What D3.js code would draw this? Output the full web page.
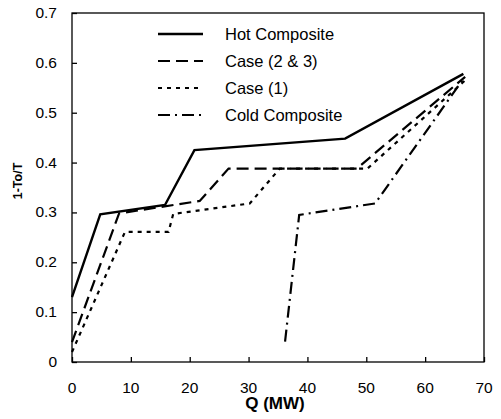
<!DOCTYPE html>
<html>
<head>
<script src="https://d3js.org/d3.v7.min.js"></script>
<style>
body { margin: 0; background: #fff; font-family: 'Liberation Sans', Arial, sans-serif; }
</style>
</head>
<body>
<div id="chart"></div>
<script>
// series: [Q (MW), 1-To/T]
var hotComposite = [[0, 0.13], [4.8, 0.296], [15.8, 0.315], [20.8, 0.425], [46.4, 0.448], [66.5, 0.578]];
var case23 = [[0, 0.04], [8.0, 0.298], [21.7, 0.323], [26.6, 0.388], [48.4, 0.388], [66.8, 0.572]];
var case1 = [[0, 0.02], [9.0, 0.261], [16.4, 0.261], [17.2, 0.297], [30.2, 0.318], [35.3, 0.388], [50.2, 0.388], [66.8, 0.565]];
var coldComposite = [[36.2, 0.041], [38.6, 0.295], [51.5, 0.318], [66.5, 0.568]];

var seriesNames = ["Hot Composite", "Case (2 & 3)", "Case (1)", "Cold Composite"];
var xTicks = [0, 10, 20, 30, 40, 50, 60, 70];
var yTicks = [0, 0.1, 0.2, 0.3, 0.4, 0.5, 0.6, 0.7];

var width = 501, height = 419;
var margin = {left: 72, top: 13, right: 17, bottom: 57};

var svg = d3.select("#chart").append("svg")
  .attr("width", width).attr("height", height);

var x = d3.scaleLinear().domain([0, 70]).range([margin.left, width - margin.right]);
var y = d3.scaleLinear().domain([0, 0.7]).range([height - margin.bottom, margin.top]);

// frame
svg.append("rect")
  .attr("x", x(0)).attr("y", y(0.7))
  .attr("width", x(70) - x(0)).attr("height", y(0) - y(0.7))
  .attr("fill", "none").attr("stroke", "#000").attr("stroke-width", 1.3);

// axes with inward ticks
svg.append("g").attr("transform", "translate(0," + y(0) + ")")
  .call(d3.axisTop(x).tickValues(xTicks).tickSize(5).tickFormat(""));
svg.append("g").attr("transform", "translate(" + x(0) + ",0)")
  .call(d3.axisRight(y).tickValues(yTicks).tickSize(5).tickFormat(""));
svg.selectAll(".domain").remove();
svg.selectAll(".tick line").attr("stroke", "#000").attr("stroke-width", 1.3);

svg.selectAll(".xlab").data(xTicks).enter().append("text")
  .attr("x", function(d) { return x(d); })
  .attr("y", y(0) + 31)
  .attr("text-anchor", "middle")
  .attr("font-size", 15.5)
  .text(function(d) { return d; });

svg.selectAll(".ylab").data(yTicks).enter().append("text")
  .attr("x", x(0) - 15)
  .attr("y", function(d) { return y(d) + 5; })
  .attr("text-anchor", "end")
  .attr("font-size", 15.5)
  .text(function(d) { return d === 0 ? "0" : d.toFixed(1); });

svg.append("text")
  .attr("x", 275).attr("y", 409)
  .attr("text-anchor", "middle")
  .attr("font-size", 17).attr("font-weight", "bold")
  .text("Q (MW)");

svg.append("text")
  .attr("transform", "translate(22,181) rotate(-90)")
  .attr("text-anchor", "middle")
  .attr("font-size", 12.5).attr("font-weight", "bold")
  .text("1-To/T");

var styles = [
  {data: hotComposite, dash: null, w: 2.4},
  {data: case23, dash: "12,6", w: 2.2},
  {data: case1, dash: "4,5", w: 2.2},
  {data: coldComposite, dash: "12,5,2,5", w: 2.2}
];

var line = d3.line().x(function(d) { return x(d[0]); }).y(function(d) { return y(d[1]); });

styles.forEach(function(s) {
  svg.append("path")
    .attr("d", line(s.data))
    .attr("fill", "none")
    .attr("stroke", "#000")
    .attr("stroke-width", s.w)
    .attr("stroke-dasharray", s.dash);
});

// legend
var legend = svg.append("g");
seriesNames.forEach(function(name, i) {
  var ly = 34 + i * 27;
  legend.append("line")
    .attr("x1", 158).attr("x2", 203).attr("y1", ly).attr("y2", ly)
    .attr("stroke", "#000").attr("stroke-width", styles[i].w)
    .attr("stroke-dasharray", styles[i].dash);
  legend.append("text")
    .attr("x", 225).attr("y", ly + 5.5)
    .attr("font-size", 16.5)
    .text(name);
});
</script>
</body>
</html>
